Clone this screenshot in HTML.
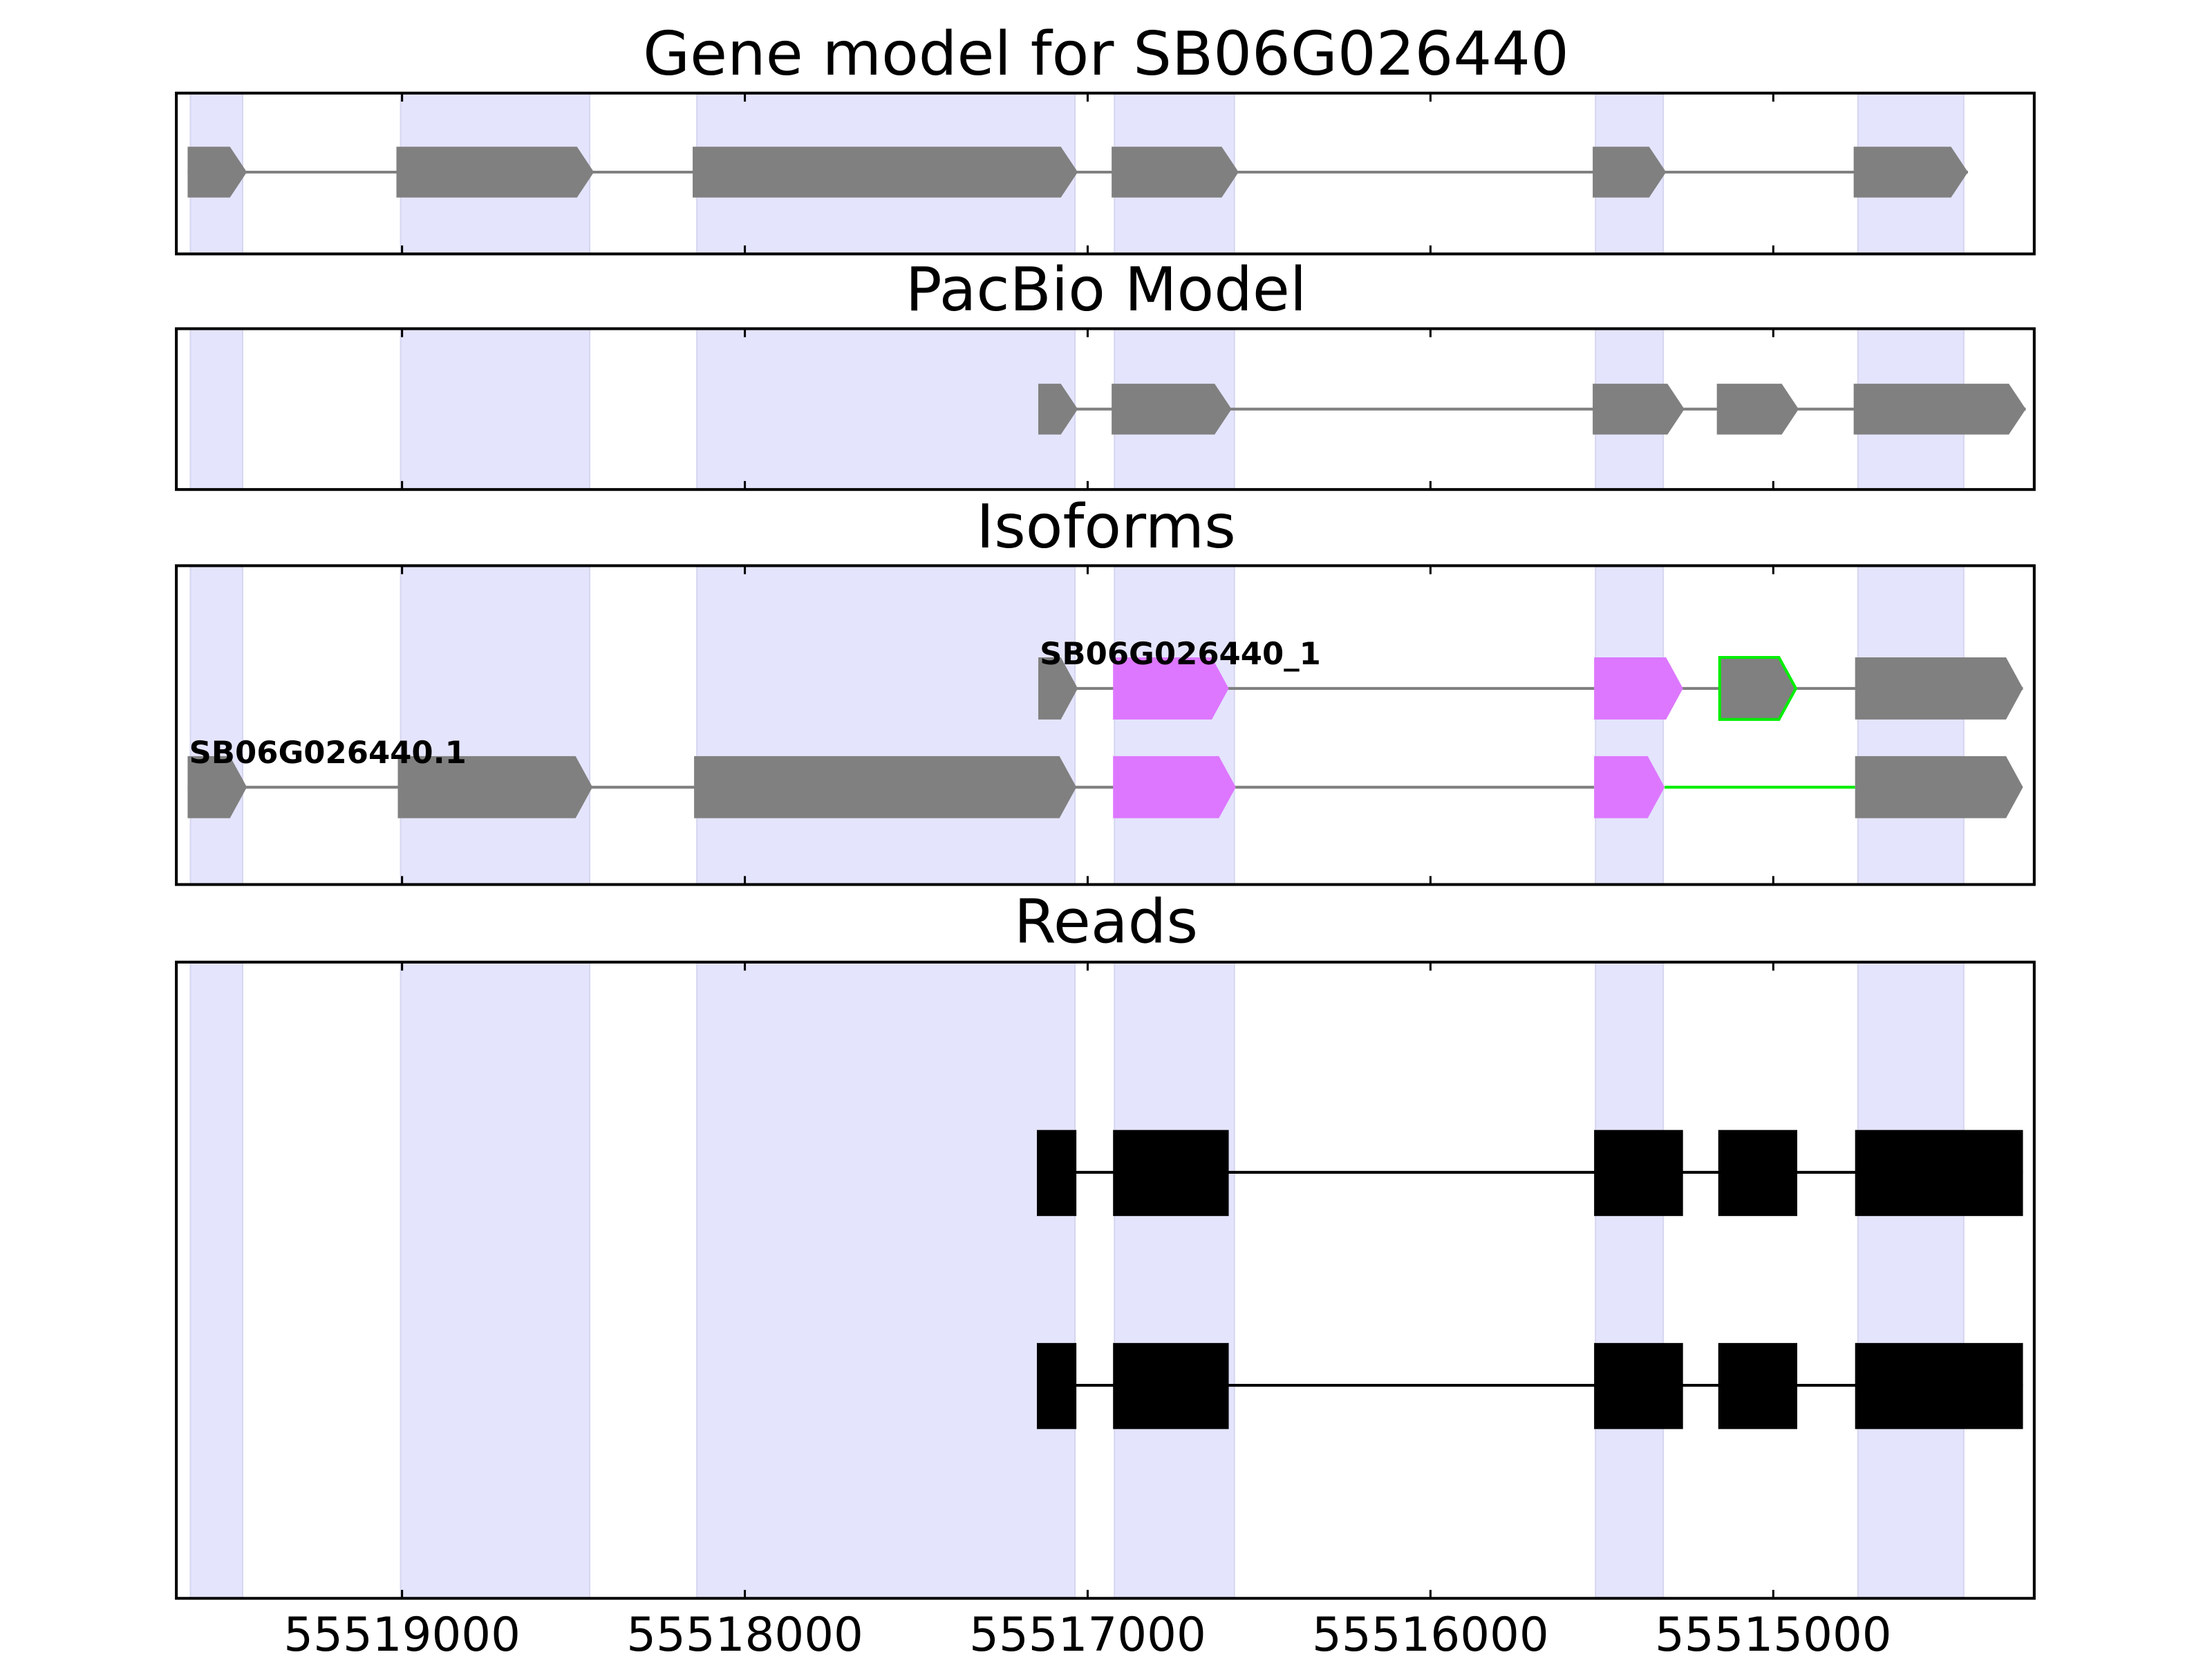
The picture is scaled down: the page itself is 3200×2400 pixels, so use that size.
<!DOCTYPE html>
<html><head><meta charset="utf-8"><style>
html,body{margin:0;padding:0;background:#fff;width:3200px;height:2400px;overflow:hidden}
svg{display:block}
text{font-family:"DejaVu Sans","Liberation Sans",sans-serif}
</style></head><body>
<svg width="3200" height="2400" viewBox="0 0 1568 1176" xmlns="http://www.w3.org/2000/svg">
<rect width="1568" height="1176" fill="#fff"/>

<!-- titles -->
<g font-size="43" text-anchor="middle" fill="#000">
<text x="784" y="53">Gene model for SB06G026440</text>
<text x="784" y="220">PacBio Model</text>
<text x="784" y="388">Isoforms</text>
<text x="784" y="668">Reads</text>
</g>

<g fill="#e4e4fd" stroke="#d6d6f0" stroke-width="1">
<rect x="135" y="66" width="37" height="114"/><rect x="284" y="66" width="134" height="114"/><rect x="494" y="66" width="268" height="114"/><rect x="790" y="66" width="85" height="114"/><rect x="1131" y="66" width="48" height="114"/><rect x="1317" y="66" width="75" height="114"/>
<rect x="135" y="233" width="37" height="114"/><rect x="284" y="233" width="134" height="114"/><rect x="494" y="233" width="268" height="114"/><rect x="790" y="233" width="85" height="114"/><rect x="1131" y="233" width="48" height="114"/><rect x="1317" y="233" width="75" height="114"/>
<rect x="135" y="401" width="37" height="226"/><rect x="284" y="401" width="134" height="226"/><rect x="494" y="401" width="268" height="226"/><rect x="790" y="401" width="85" height="226"/><rect x="1131" y="401" width="48" height="226"/><rect x="1317" y="401" width="75" height="226"/>
<rect x="135" y="682" width="37" height="451"/><rect x="284" y="682" width="134" height="451"/><rect x="494" y="682" width="268" height="451"/><rect x="790" y="682" width="85" height="451"/><rect x="1131" y="682" width="48" height="451"/><rect x="1317" y="682" width="75" height="451"/>
</g>

<line x1="133" y1="122" x2="1395" y2="122" stroke="#808080" stroke-width="2"/>
<g fill="#808080">
<polygon points="133,104 163,104 175,122 163,140 133,140"/>
<polygon points="281,104 409,104 421,122 409,140 281,140"/>
<polygon points="491,104 752,104 764,122 752,140 491,140"/>
<polygon points="788,104 866,104 878,122 866,140 788,140"/>
<polygon points="1129,104 1169,104 1181,122 1169,140 1129,140"/>
<polygon points="1314,104 1383,104 1395,122 1383,140 1314,140"/>
</g>

<line x1="736" y1="290" x2="1436" y2="290" stroke="#808080" stroke-width="2"/>
<g fill="#808080">
<polygon points="736,272 752,272 764,290 752,308 736,308"/>
<polygon points="788,272 861,272 873,290 861,308 788,308"/>
<polygon points="1129,272 1182,272 1194,290 1182,308 1129,308"/>
<polygon points="1217,272 1263,272 1275,290 1263,308 1217,308"/>
<polygon points="1314,272 1424,272 1436,290 1424,308 1314,308"/>
</g>

<line x1="736" y1="488" x2="1434" y2="488" stroke="#808080" stroke-width="2"/>
<polygon points="736,466 752,466 764,488 752,510 736,510" fill="#808080"/>
<polygon points="789,466 859,466 871,488 859,510 789,510" fill="#dd77ff"/>
<polygon points="1130,466 1181,466 1193,488 1181,510 1130,510" fill="#dd77ff"/>
<polygon points="1219,466 1261,466 1273,488 1261,510 1219,510" fill="#808080" stroke="#00ee00" stroke-width="2"/>
<polygon points="1315,466 1422,466 1434,488 1422,510 1315,510" fill="#808080"/>
<text x="737" y="471" font-size="22" font-weight="bold">SB06G026440_1</text>

<line x1="133" y1="558" x2="1130" y2="558" stroke="#808080" stroke-width="2"/>
<line x1="1180" y1="558" x2="1315" y2="558" stroke="#00ee00" stroke-width="2"/>
<polygon points="133,536 163,536 175,558 163,580 133,580" fill="#808080"/>
<polygon points="282,536 408,536 420,558 408,580 282,580" fill="#808080"/>
<polygon points="492,536 751,536 763,558 751,580 492,580" fill="#808080"/>
<polygon points="789,536 864,536 876,558 864,580 789,580" fill="#dd77ff"/>
<polygon points="1130,536 1168,536 1180,558 1168,580 1130,580" fill="#dd77ff"/>
<polygon points="1315,536 1422,536 1434,558 1422,580 1315,580" fill="#808080"/>
<text x="134" y="541" font-size="22" font-weight="bold">SB06G026440.1</text>

<g>
<line x1="735" y1="831" x2="1434" y2="831" stroke="#000" stroke-width="2"/>
<rect x="735" y="801" width="28" height="61"/><rect x="789" y="801" width="82" height="61"/><rect x="1130" y="801" width="63" height="61"/><rect x="1218" y="801" width="56" height="61"/><rect x="1315" y="801" width="119" height="61"/>
<line x1="735" y1="982" x2="1434" y2="982" stroke="#000" stroke-width="2"/>
<rect x="735" y="952" width="28" height="61"/><rect x="789" y="952" width="82" height="61"/><rect x="1130" y="952" width="63" height="61"/><rect x="1218" y="952" width="56" height="61"/><rect x="1315" y="952" width="119" height="61"/>
</g>

<g fill="none" stroke="#000" stroke-width="2">
<rect x="125" y="66" width="1317" height="114"/>
<rect x="125" y="233" width="1317" height="114"/>
<rect x="125" y="401" width="1317" height="226"/>
<rect x="125" y="682" width="1317" height="451"/>
</g>
<g stroke="#000" stroke-width="1.5">
<path d="M285,66v6M528,66v6M771,66v6M1014,66v6M1257,66v6M285,180v-6M528,180v-6M771,180v-6M1014,180v-6M1257,180v-6"/>
<path d="M285,233v6M528,233v6M771,233v6M1014,233v6M1257,233v6M285,347v-6M528,347v-6M771,347v-6M1014,347v-6M1257,347v-6"/>
<path d="M285,401v6M528,401v6M771,401v6M1014,401v6M1257,401v6M285,627v-6M528,627v-6M771,627v-6M1014,627v-6M1257,627v-6"/>
<path d="M285,682v6M528,682v6M771,682v6M1014,682v6M1257,682v6M285,1133v-6M528,1133v-6M771,1133v-6M1014,1133v-6M1257,1133v-6"/>
</g>
<g font-size="33" text-anchor="middle" fill="#000">
<text x="285" y="1170">55519000</text>
<text x="528" y="1170">55518000</text>
<text x="771" y="1170">55517000</text>
<text x="1014" y="1170">55516000</text>
<text x="1257" y="1170">55515000</text>
</g>
</svg>
</body></html>
